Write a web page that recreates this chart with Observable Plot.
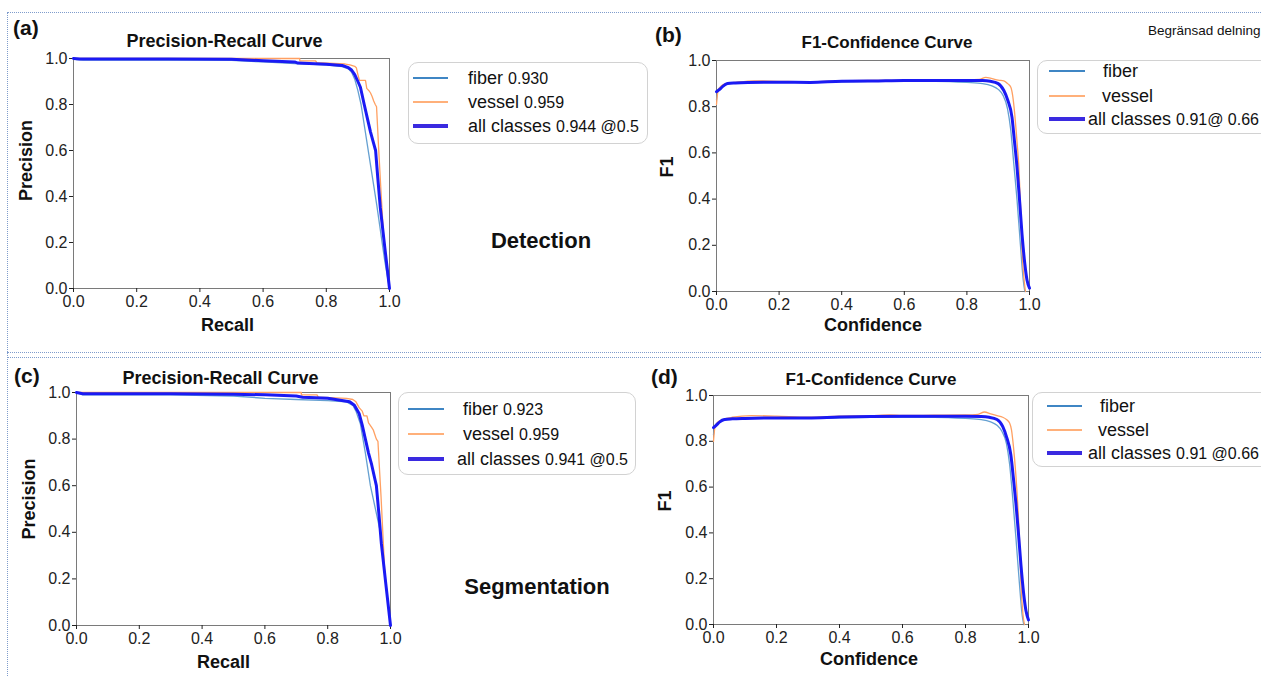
<!DOCTYPE html>
<html>
<head>
<meta charset="utf-8">
<script src="https://cdn.jsdelivr.net/npm/d3@7"></script>
<script src="https://cdn.jsdelivr.net/npm/@observablehq/plot@0.6"></script>
<style>
  body { margin: 0; background: #fff; }
  #root { position: relative; width: 1261px; height: 676px; overflow: hidden; font-family: "Liberation Sans", Arial, sans-serif; color: #111; }
  .abs { position: absolute; white-space: nowrap; }
  .plotbox { position: absolute; }
  .legend { position: absolute; border: 1.5px solid #d2d2d2; border-radius: 10px; background: #fff; box-sizing: border-box; }
  .sw { position: absolute; height: 0; }
  .lt { position: absolute; transform: translateY(-50%); white-space: nowrap; font-size: 18px; line-height: 18px; }
  .lt span { font-size: 16px; }
  .dotH { position: absolute; height: 0; border-top: 1px dotted #7f9ccc; }
  .dotV { position: absolute; width: 0; border-left: 1px dotted #7f9ccc; }
</style>
</head>
<body>
<div id="root"></div>
<script>
// ---------- data ----------
const xTicks = [0, 0.2, 0.4, 0.6, 0.8, 1.0];
const yTicks = [0, 0.2, 0.4, 0.6, 0.8, 1.0];

// (a) Detection: Precision-Recall  [recall, precision]
const detPrFiber = [[0,1.0],[0.01,0.995],[0.03,0.993],[0.2,0.993],[0.4,0.993],[0.5,0.992],[0.6,0.985],[0.7,0.978],[0.8,0.972],[0.85,0.965],[0.87,0.955],[0.88,0.94],[0.89,0.91],[0.9,0.86],[0.91,0.8],[0.935,0.58],[0.96,0.36],[0.985,0.12],[1.0,0.0]];
const detPrVessel = [[0,1.0],[0.716,1.0],[0.716,0.99],[0.766,0.99],[0.77,0.982],[0.86,0.976],[0.875,0.972],[0.89,0.966],[0.895,0.96],[0.9,0.93],[0.905,0.905],[0.924,0.905],[0.928,0.87],[0.935,0.86],[0.94,0.85],[0.945,0.835],[0.95,0.815],[0.955,0.8],[0.959,0.79],[0.966,0.6],[0.974,0.4],[0.982,0.21],[1.0,0.0]];
const detPrAll = [[0,1.0],[0.02,0.998],[0.3,0.998],[0.5,0.997],[0.6,0.99],[0.7,0.985],[0.71,0.98],[0.8,0.975],[0.85,0.97],[0.87,0.96],[0.88,0.95],[0.89,0.93],[0.9,0.9],[0.908,0.875],[0.92,0.8],[0.93,0.74],[0.94,0.68],[0.95,0.63],[0.956,0.6],[0.963,0.48],[0.971,0.35],[0.985,0.18],[1.0,0.0]];

// (b) Detection: F1-Confidence  [confidence, F1]
const detF1Fiber = [[0,0.83],[0.005,0.875],[0.02,0.89],[0.04,0.9],[0.1,0.905],[0.3,0.905],[0.5,0.91],[0.7,0.91],[0.8,0.905],[0.85,0.9],[0.88,0.89],[0.9,0.875],[0.915,0.85],[0.93,0.79],[0.94,0.7],[0.95,0.55],[0.96,0.4],[0.97,0.22],[0.98,0.05],[0.985,0.0]];
const detF1Vessel = [[0,0.81],[0.005,0.87],[0.015,0.89],[0.03,0.9],[0.06,0.905],[0.12,0.912],[0.2,0.91],[0.3,0.908],[0.4,0.912],[0.5,0.914],[0.6,0.914],[0.7,0.915],[0.8,0.916],[0.84,0.918],[0.86,0.927],[0.88,0.922],[0.9,0.915],[0.918,0.912],[0.93,0.9],[0.94,0.885],[0.946,0.85],[0.952,0.78],[0.96,0.65],[0.966,0.54],[0.972,0.35],[0.976,0.18],[0.982,0.06],[0.987,0.0]];
const detF1All = [[0,0.865],[0.01,0.875],[0.02,0.888],[0.035,0.9],[0.06,0.903],[0.1,0.905],[0.2,0.906],[0.3,0.905],[0.4,0.91],[0.5,0.911],[0.6,0.913],[0.7,0.913],[0.8,0.913],[0.85,0.913],[0.875,0.91],[0.9,0.9],[0.918,0.87],[0.93,0.83],[0.944,0.755],[0.952,0.65],[0.96,0.54],[0.968,0.4],[0.976,0.25],[0.985,0.12],[0.992,0.05],[1.0,0.015]];

// (c) Segmentation: Precision-Recall
const segPrFiber = [[0,1.0],[0.02,0.99],[0.3,0.99],[0.5,0.985],[0.6,0.975],[0.7,0.97],[0.8,0.965],[0.86,0.96],[0.88,0.945],[0.89,0.92],[0.904,0.866],[0.92,0.74],[0.936,0.6],[0.968,0.4],[0.99,0.12],[1.0,0.0]];
const segPrVessel = [[0,1.0],[0.716,1.0],[0.716,0.99],[0.766,0.99],[0.77,0.98],[0.86,0.975],[0.88,0.97],[0.89,0.96],[0.9,0.935],[0.91,0.92],[0.915,0.9],[0.925,0.9],[0.93,0.87],[0.94,0.85],[0.945,0.84],[0.95,0.82],[0.955,0.8],[0.96,0.79],[0.97,0.55],[0.982,0.22],[1.0,0.0]];
const segPrAll = [[0,1.0],[0.02,0.995],[0.3,0.995],[0.5,0.993],[0.6,0.99],[0.7,0.985],[0.72,0.98],[0.8,0.975],[0.85,0.965],[0.87,0.96],[0.885,0.945],[0.9,0.91],[0.91,0.86],[0.92,0.8],[0.93,0.74],[0.94,0.69],[0.95,0.63],[0.955,0.6],[0.963,0.48],[0.971,0.35],[0.985,0.18],[1.0,0.0]];

// (d) Segmentation: F1-Confidence
const segF1Fiber = [[0,0.83],[0.005,0.87],[0.02,0.885],[0.04,0.895],[0.1,0.9],[0.3,0.9],[0.5,0.905],[0.7,0.905],[0.8,0.9],[0.85,0.895],[0.88,0.885],[0.9,0.87],[0.915,0.845],[0.93,0.79],[0.94,0.7],[0.95,0.55],[0.96,0.38],[0.97,0.2],[0.98,0.04],[0.985,0.0]];
const segF1Vessel = [[0,0.8],[0.005,0.865],[0.015,0.885],[0.03,0.895],[0.06,0.905],[0.12,0.912],[0.2,0.91],[0.3,0.905],[0.4,0.91],[0.5,0.912],[0.56,0.915],[0.6,0.913],[0.7,0.914],[0.8,0.915],[0.84,0.918],[0.86,0.928],[0.88,0.92],[0.9,0.912],[0.918,0.905],[0.93,0.895],[0.94,0.88],[0.946,0.85],[0.952,0.78],[0.96,0.65],[0.966,0.52],[0.972,0.35],[0.976,0.18],[0.982,0.05],[0.987,0.0]];
const segF1All = [[0,0.86],[0.01,0.872],[0.02,0.885],[0.035,0.895],[0.06,0.898],[0.1,0.9],[0.2,0.902],[0.3,0.902],[0.4,0.906],[0.5,0.908],[0.6,0.909],[0.7,0.909],[0.8,0.909],[0.85,0.908],[0.875,0.905],[0.9,0.895],[0.918,0.865],[0.93,0.82],[0.944,0.74],[0.952,0.64],[0.96,0.53],[0.968,0.4],[0.976,0.26],[0.985,0.13],[0.992,0.06],[1.0,0.02]];

// legends
const legendA = [["fiber", "0.930"], ["vessel", "0.959"], ["all classes", "0.944 @0.5"]];
const legendB = [["fiber", ""], ["vessel", ""], ["all classes", "0.91@ 0.66"]];
const legendC = [["fiber", "0.923"], ["vessel", "0.959"], ["all classes", "0.941 @0.5"]];
const legendD = [["fiber", ""], ["vessel", ""], ["all classes", "0.91 @0.66"]];

// ---------- styles ----------
const classStyle = [
  {color: "#4a8fc9", width: 1.3, opacity: 0.85},
  {color: "#ffa062", width: 1.3, opacity: 1},
  {color: "#1a1af4", width: 3, opacity: 1}
];
const legendStyle = [
  {color: "#3f86c4", width: 2},
  {color: "#ffb07a", width: 2},
  {color: "#3a2ae0", width: 4}
];

const root = document.getElementById("root");
const fmt = d3.format(".1f");
const toRows = pairs => pairs.map(([x, y]) => ({x, y}));

function panel(cfg) {
  const lines = cfg.series.map((s, i) => Plot.line(toRows(s), {
    x: "x", y: "y", stroke: classStyle[i].color, strokeWidth: classStyle[i].width,
    strokeOpacity: classStyle[i].opacity, curve: cfg.curve
  }));
  const txt = (t, o) => Plot.text([t], {text: d => d, textAnchor: "middle", lineAnchor: "middle", fill: "#111", ...o});
  const p = Plot.plot({
    width: cfg.width, height: cfg.height,
    marginLeft: cfg.ml, marginRight: cfg.mr, marginTop: cfg.mt, marginBottom: cfg.mb,
    x: {domain: [0, 1]}, y: {domain: [0, 1]},
    style: {fontFamily: '"Liberation Sans", Arial, sans-serif', fontSize: "16px", color: "#222", background: "transparent", overflow: "visible"},
    marks: [
      Plot.frame({stroke: "#7a7a7a"}),
      Plot.axisX({ticks: xTicks, tickFormat: fmt, tickSize: 4, tickPadding: 3, label: null, fontSize: 16}),
      Plot.axisY({ticks: yTicks, tickFormat: fmt, tickSize: 4, tickPadding: 2, label: null, fontSize: 16}),
      ...lines,
      txt(cfg.title, {frameAnchor: "top", dx: cfg.tdx, dy: cfg.tdy, fontSize: cfg.tsize, fontWeight: "bold"}),
      txt(cfg.xlabel, {frameAnchor: "bottom", dx: cfg.xdx, dy: cfg.xdy, fontSize: 18, fontWeight: "bold"}),
      txt(cfg.ylabel, {frameAnchor: "left", dx: cfg.ydx, dy: cfg.ydy, rotate: -90, fontSize: 18, fontWeight: "bold"})
    ]
  });
  const box = document.createElement("div");
  box.className = "plotbox";
  box.style.left = cfg.left + "px";
  box.style.top = cfg.top + "px";
  box.appendChild(p);
  root.appendChild(box);
}

function legend(entries, L) {
  const box = document.createElement("div");
  box.className = "legend";
  Object.assign(box.style, {left: L.left + "px", top: L.top + "px", width: L.w + "px", height: L.h + "px"});
  root.appendChild(box);
  entries.forEach(([name, val], i) => {
    const y = L.rows[i];
    const sw = document.createElement("div");
    sw.className = "sw";
    Object.assign(sw.style, {left: L.sx0 + "px", width: (L.sx1 - L.sx0) + "px", top: (y - legendStyle[i].width / 2) + "px",
      borderTop: legendStyle[i].width + "px solid " + legendStyle[i].color});
    root.appendChild(sw);
    const t = document.createElement("div");
    t.className = "lt";
    t.style.left = L.tx[i] + "px";
    t.style.top = y + "px";
    t.innerHTML = name + (val ? " <span>" + val + "</span>" : "");
    root.appendChild(t);
  });
}

function label(text, x, y, size, weight, anchor) {
  const d = document.createElement("div");
  d.className = "abs";
  d.textContent = text;
  Object.assign(d.style, {left: x + "px", top: y + "px", fontSize: size + "px", lineHeight: size + "px", fontWeight: weight,
    transform: anchor === "center" ? "translate(-50%,-50%)" : "translateY(-50%)"});
  root.appendChild(d);
}

// dotted panel borders
function dotH(x, y, w) { const d = document.createElement("div"); d.className = "dotH"; Object.assign(d.style, {left: x + "px", top: y + "px", width: w + "px"}); root.appendChild(d); }
function dotV(x, y, h) { const d = document.createElement("div"); d.className = "dotV"; Object.assign(d.style, {left: x + "px", top: y + "px", height: h + "px"}); root.appendChild(d); }
dotH(7, 12, 1254);
dotH(7, 352, 1254);
dotH(7, 357, 1254);
dotV(7, 12, 664);

// ---------- panels ----------
panel({left: 0, top: 16, width: 400, height: 320, ml: 73, mr: 11, mt: 42, mb: 48,
  series: [detPrFiber, detPrVessel, detPrAll], curve: "linear",
  title: "Precision-Recall Curve", tsize: 18, tdx: -7, tdy: -17,
  xlabel: "Recall", xdx: -4, xdy: 37, ylabel: "Precision", ydx: -47, ydy: -13});

panel({left: 640, top: 16, width: 420, height: 320, ml: 76, mr: 31, mt: 44, mb: 45,
  series: [detF1Fiber, detF1Vessel, detF1All], curve: "monotone-x",
  title: "F1-Confidence Curve", tsize: 17, tdx: 14, tdy: -18,
  xlabel: "Confidence", xdx: 0, xdy: 34, ylabel: "F1", ydx: -49, ydy: -9});

panel({left: 0, top: 362, width: 400, height: 314, ml: 76, mr: 10, mt: 30, mb: 51,
  series: [segPrFiber, segPrVessel, segPrAll], curve: "linear",
  title: "Precision-Recall Curve", tsize: 18, tdx: -13, tdy: -14,
  xlabel: "Recall", xdx: -10, xdy: 37, ylabel: "Precision", ydx: -47, ydy: -10});

panel({left: 640, top: 362, width: 420, height: 314, ml: 73, mr: 32, mt: 33, mb: 52,
  series: [segF1Fiber, segF1Vessel, segF1All], curve: "monotone-x",
  title: "F1-Confidence Curve", tsize: 17, tdx: 0, tdy: -16,
  xlabel: "Confidence", xdx: -2, xdy: 35, ylabel: "F1", ydx: -48, ydy: -9});

// ---------- legends ----------
legend(legendA, {left: 408, top: 62, w: 240, h: 82, rows: [78, 102, 126], sx0: 413, sx1: 448, tx: [468, 468, 468]});
legend(legendB, {left: 1037, top: 60, w: 240, h: 74, rows: [71, 96, 119], sx0: 1049, sx1: 1085, tx: [1103, 1102, 1088]});
legend(legendC, {left: 398, top: 392, w: 238, h: 83, rows: [409, 434, 459], sx0: 408, sx1: 444, tx: [463, 463, 457]});
legend(legendD, {left: 1032, top: 392, w: 240, h: 75, rows: [406, 430, 453], sx0: 1047, sx1: 1082, tx: [1100, 1098, 1088]});

// ---------- annotations ----------
label("(a)", 13, 27, 21, "bold");
label("(b)", 655, 34, 21, "bold");
label("(c)", 14, 375, 21, "bold");
label("(d)", 651, 376, 21, "bold");
label("Detection", 541, 241, 22, "bold", "center");
label("Segmentation", 537, 587, 22, "bold", "center");
label("Begränsad delning", 1148, 31, 13.5, "normal");
</script>
</body>
</html>
